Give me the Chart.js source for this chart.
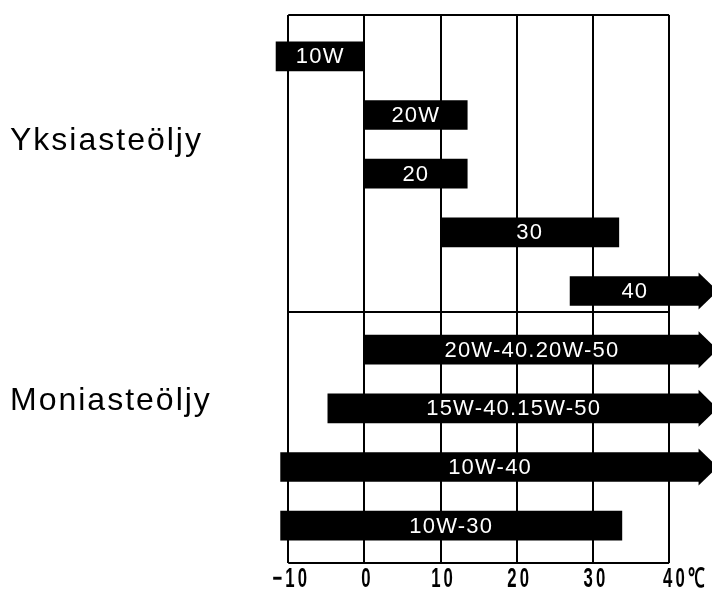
<!DOCTYPE html>
<html>
<head>
<meta charset="utf-8">
<script src="https://cdn.jsdelivr.net/npm/chart.js@4"></script>
<style>
  html, body { margin: 0; padding: 0; background: #fff; }
</style>
</head>
<body>
<canvas id="oilChart" width="712" height="589"></canvas>
<script>
// oil grades and their usable temperature range (°C)
const oils = ['10W', '20W', '20', '30', '40', '20W-40.20W-50', '15W-40.15W-50', '10W-40', '10W-30']
const lowTemps = [-11.6, 0, 0, 10, 27, 0, -4.8, -11, -11]
const highTemps = [0, 13.5, 13.5, 33.4, 44, 44, 44, 44, 33.8]
const openEnded = [false, false, false, false, true, true, true, true, false]
const tickValues = [-10, 0, 10, 20, 30, 40]
const groupNames = ['Yksiasteöljy', 'Moniasteöljy']
const groupAnchor = [1.45, 5.88]

const framePlugin = {
    id: 'frame',
    beforeDatasetsDraw(chart) {
        const { ctx, chartArea, scales: { x, y } } = chart
        const left = x.getPixelForValue(tickValues[0])
        const right = x.getPixelForValue(tickValues[tickValues.length - 1])
        const top = chartArea.top - 12
        const bottom = chartArea.bottom + 8
        ctx.save()
        ctx.strokeStyle = '#000'
        ctx.lineWidth = 2
        tickValues.forEach(v => {
            const px = Math.round(x.getPixelForValue(v))
            ctx.beginPath()
            ctx.moveTo(px, top)
            ctx.lineTo(px, bottom)
            ctx.stroke()
        })
        ctx.beginPath()
        ctx.moveTo(left, top); ctx.lineTo(right, top)
        ctx.moveTo(left, bottom); ctx.lineTo(right, bottom)
        // line between the two oil groups
        const sep = y.getPixelForValue(4) + (y.getPixelForValue(5) - y.getPixelForValue(4)) * 0.36
        ctx.moveTo(left, sep); ctx.lineTo(right, sep)
        ctx.stroke()
        ctx.restore()
    },
    afterDatasetsDraw(chart) {
        const { ctx, chartArea, scales: { x, y } } = chart
        const bars = chart.getDatasetMeta(0).data
        ctx.save()
        // arrow heads for open ended ranges
        ctx.fillStyle = '#000'
        bars.forEach((bar, i) => {
            if (!openEnded[i]) return
            const half = bar.height / 2 + 4
            ctx.beginPath()
            ctx.moveTo(bar.x - 1, bar.y - half)
            ctx.lineTo(bar.x + 18, bar.y)
            ctx.lineTo(bar.x - 1, bar.y + half)
            ctx.closePath()
            ctx.fill()
        })
        // grade names inside bars
        ctx.fillStyle = '#fff'
        ctx.font = '22px "Liberation Sans", Arial, sans-serif'
        ctx.letterSpacing = '1.2px'
        ctx.textAlign = 'center'
        ctx.textBaseline = 'middle'
        bars.forEach((bar, i) => {
            ctx.fillText(oils[i], (bar.x + bar.base) / 2, bar.y + 1)
        })
        // group names on the left
        ctx.fillStyle = '#000'
        ctx.font = '32px "Liberation Sans", Arial, sans-serif'
        ctx.letterSpacing = '2px'
        ctx.textAlign = 'left'
        groupNames.forEach((name, i) => {
            ctx.fillText(name, 10, y.getPixelForValue(groupAnchor[i]))
        })
        // temperature ticks, condensed bold
        ctx.font = 'bold 27px "Liberation Sans", Arial, sans-serif'
        ctx.letterSpacing = '5px'
        ctx.textBaseline = 'top'
        const sx = 0.62
        const ty = chartArea.bottom + 11
        const last = tickValues.length - 1
        tickValues.forEach((v, i) => {
            const px = x.getPixelForValue(v)
            ctx.save()
            if (i === last) {
                ctx.translate(px - 6, ty)
                ctx.scale(sx, 1)
                ctx.textAlign = 'left'
                ctx.fillText(v + '℃', 0, 0)
            } else {
                ctx.translate(px + 3, ty)
                ctx.scale(sx, 1)
                ctx.textAlign = 'center'
                ctx.fillText(String(v).replace('-', '−'), 0, 0)
            }
            ctx.restore()
        })
        ctx.restore()
    }
}

const ctx = document.getElementById('oilChart').getContext('2d')

const oilChart = new Chart(ctx, {
    type: 'bar',
    data: {
        labels: oils,
        datasets: [{
            label: 'Lämpötila-alue',
            data: lowTemps.map((v, i) => [v, highTemps[i]]),
            backgroundColor: '#000',
            borderWidth: 0,
            borderSkipped: false,
            barThickness: 29
        }]
    },
    options: {
        indexAxis: 'y',
        responsive: false,
        animation: false,
        devicePixelRatio: 1,
        layout: {
            padding: { left: 273, right: 1, top: 27, bottom: 34 }
        },
        scales: {
            x: { type: 'linear', min: -12, max: 45.5, display: false },
            y: { type: 'category', display: false, offset: true }
        },
        plugins: {
            legend: { display: false },
            tooltip: { enabled: false }
        }
    },
    plugins: [framePlugin]
})
</script>
</body>
</html>
